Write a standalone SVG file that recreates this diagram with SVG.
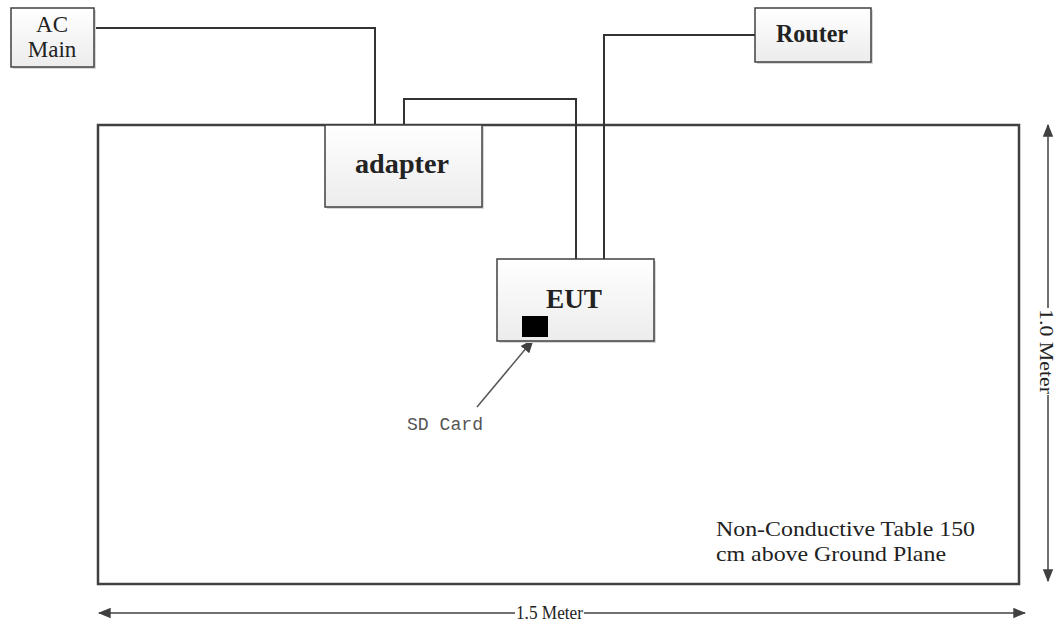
<svg xmlns="http://www.w3.org/2000/svg" width="1057" height="628" viewBox="0 0 1057 628">
<defs>
<linearGradient id="g" x1="0" y1="0" x2="0" y2="1"><stop offset="0" stop-color="#ffffff"/><stop offset="1" stop-color="#ececec"/></linearGradient>
<marker id="ah" viewBox="0 0 10 10" refX="9" refY="5" markerWidth="13" markerHeight="13" markerUnits="userSpaceOnUse" orient="auto-start-reverse"><path d="M0,1 L10,5 L0,9 z" fill="#404040"/></marker>
<marker id="ah2" viewBox="0 0 10 10" refX="9" refY="5" markerWidth="14" markerHeight="14" markerUnits="userSpaceOnUse" orient="auto-start-reverse"><path d="M0,1 L10,5 L0,9 z" fill="#404040"/></marker>
</defs>
<style>
.box{fill:url(#g);stroke:#404040;stroke-width:1.5}
.shadow{fill:#d8d8d8}
.wire{fill:none;stroke:#333;stroke-width:2}
.t{font-family:"Liberation Serif",serif;fill:#222}
.b{font-family:"Liberation Serif",serif;font-weight:bold;fill:#222}
.dim{stroke:#404040;stroke-width:1.5}
</style>
<rect width="1057" height="628" fill="#fff"/>
<g id="table">
<rect x="98" y="125" width="921" height="459" fill="none" stroke="#404040" stroke-width="2.5"/>
<text class="t" x="716" y="536" font-size="21" textLength="259" lengthAdjust="spacingAndGlyphs">Non-Conductive Table 150</text>
<text class="t" x="716" y="561" font-size="21" textLength="230" lengthAdjust="spacingAndGlyphs">cm above Ground Plane</text>
</g>
<g id="connectors">
<polyline class="wire" points="94,28 375,28 375,125"/>
<polyline class="wire" points="404,125 404,99 576,99 576,259"/>
<polyline class="wire" points="604,259 604,35 755,35"/>
<line x1="477" y1="407" x2="533" y2="340" stroke="#555" stroke-width="1.5" marker-end="url(#ah2)"/>
</g>
<g id="ac-main">
<rect class="shadow" x="13" y="10" width="83" height="59"/>
<rect class="box" x="11" y="8" width="83" height="59"/>
<text class="t" x="52" y="32" font-size="23" text-anchor="middle">AC</text>
<text class="t" x="52" y="57" font-size="23" text-anchor="middle">Main</text>
</g>
<g id="router">
<rect class="shadow" x="757" y="10" width="116" height="54"/>
<rect class="box" x="755" y="8" width="116" height="54"/>
<text class="b" x="776" y="42" font-size="25" textLength="72" lengthAdjust="spacingAndGlyphs">Router</text>
</g>
<g id="adapter">
<rect class="shadow" x="327" y="127" width="157" height="82"/>
<rect class="box" x="325" y="125" width="157" height="82"/>
<text class="b" x="355" y="173" font-size="28" textLength="94" lengthAdjust="spacingAndGlyphs">adapter</text>
</g>
<g id="eut">
<rect class="shadow" x="499" y="261" width="157" height="82"/>
<rect class="box" x="497" y="259" width="157" height="82"/>
<text class="b" x="546" y="308" font-size="28" textLength="56" lengthAdjust="spacingAndGlyphs">EUT</text>
<rect x="522" y="316" width="26" height="21" fill="#000"/>
</g>
<g id="sd-card-label">
<text x="407" y="430" font-size="18" font-family="'Liberation Mono',monospace" fill="#555" textLength="76" lengthAdjust="spacingAndGlyphs">SD Card</text>
</g>
<g id="dim-width">
<line class="dim" x1="99" y1="613" x2="515" y2="613" marker-start="url(#ah)"/>
<line class="dim" x1="584" y1="613" x2="1025" y2="613" marker-end="url(#ah)"/>
<text class="t" x="516" y="619" font-size="18" textLength="67" lengthAdjust="spacingAndGlyphs">1.5 Meter</text>
</g>
<g id="dim-height">
<line class="dim" x1="1048" y1="125" x2="1048" y2="308" marker-start="url(#ah)"/>
<line class="dim" x1="1048" y1="395" x2="1048" y2="581" marker-end="url(#ah)"/>
<text class="t" x="309" y="-1040" font-size="19" transform="rotate(90)" textLength="85" lengthAdjust="spacingAndGlyphs">1.0 Meter</text>
</g>
</svg>
